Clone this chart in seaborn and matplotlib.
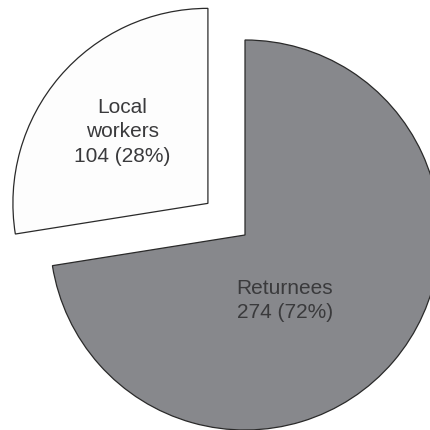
import matplotlib
matplotlib.use("Agg")
import matplotlib.pyplot as plt
import seaborn as sns

categories = ["Returnees", "Local workers"]
counts = [274, 104]
percents = [72, 28]

sns.set_theme(style="white")
plt.rcParams['font.family'] = ['Liberation Sans', 'DejaVu Sans']

fig = plt.figure(figsize=(4.3, 4.3), dpi=100)
ax = fig.add_axes([0, 0, 1, 1])

colors = ["#87888c", "#fdfdfd"]
explode = [0, 0.25]
wedges, _ = ax.pie(counts, colors=colors, explode=explode, startangle=90,
                   counterclock=False, radius=1,
                   wedgeprops=dict(edgecolor="#2a2a2a", linewidth=0.9))

ax.set_aspect("equal")
ax.set_xlim(-245 / 195, (430 - 245) / 195)
ax.set_ylim(-(430 - 235) / 195, 235 / 195)
ax.axis("off")

txt_color = "#3a3a3c"
ax.text(0.205, -0.335, f"{categories[0]}\n{counts[0]} ({percents[0]}%)",
        ha="center", va="center", fontsize=15, color=txt_color, linespacing=1.37)
ax.text(-0.63, 0.53, "Local\nworkers\n" + f"{counts[1]} ({percents[1]}%)",
        ha="center", va="center", fontsize=15, color=txt_color, linespacing=1.37)

fig.savefig("out.png", dpi=100)
